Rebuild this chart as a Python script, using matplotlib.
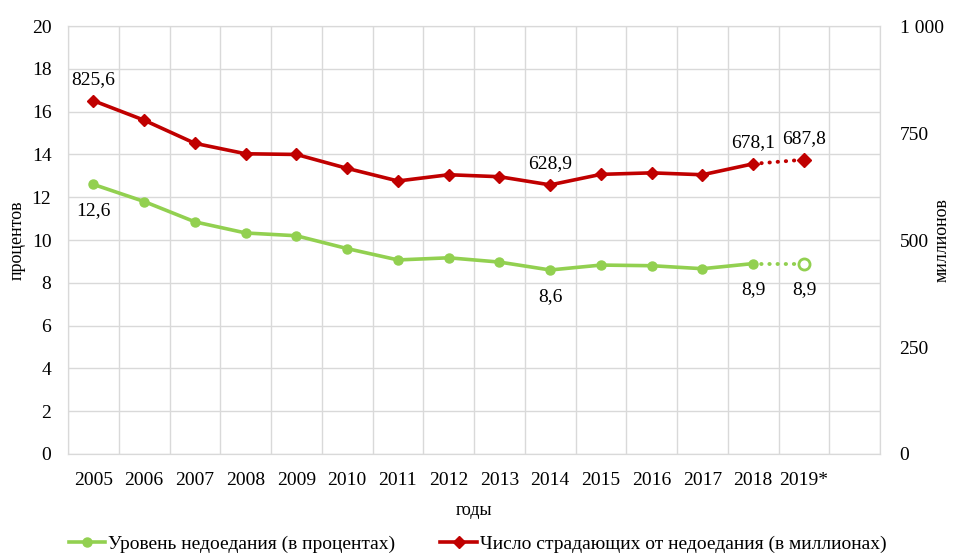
import matplotlib
matplotlib.use('Agg')
from matplotlib import pyplot as plt
from matplotlib.lines import Line2D

years = ['2005', '2006', '2007', '2008', '2009', '2010', '2011', '2012',
         '2013', '2014', '2015', '2016', '2017', '2018', '2019*']
percent = [12.6, 11.8, 10.85, 10.33, 10.2, 9.6, 9.07, 9.17, 8.97, 8.6, 8.83, 8.8, 8.66, 8.9, 8.9]
millions = [825.6, 780, 726, 701.6, 700, 667.5, 638, 652.6, 648, 628.9, 653.5, 657, 652.6, 678.1, 687.8]

green = '#92D050'
red = '#C00000'

plt.rcParams['font.family'] = ['Liberation Serif', 'DejaVu Serif']
plt.rcParams['font.size'] = 14

fig = plt.figure(figsize=(9.61, 5.55), dpi=100)
ax = fig.add_axes([0.0708, 0.182, 0.845, 0.771])
ax2 = ax.twinx()

x = list(range(len(years)))

# solid part up to 2018, dotted forecast 2018 -> 2019*
ax.plot(x[:-1], percent[:-1], color=green, lw=2.6, marker='o', ms=6.5, zorder=3)
ax.plot(x[-2:], percent[-2:], color=green, lw=2.8, ls=(0, (0.1, 2.0)),
        dash_capstyle='round', zorder=3)
ax.plot(x[-1], percent[-1], marker='o', ms=8, mfc='white', mec=green, mew=2, zorder=4)

ax2.plot(x[:-1], millions[:-1], color=red, lw=2.6, marker='D', ms=6, zorder=3)
ax2.plot(x[-2:], millions[-2:], color=red, lw=2.8, ls=(0, (0.1, 2.0)),
         dash_capstyle='round', zorder=3)
ax2.plot(x[-1], millions[-1], marker='D', ms=7, color=red, zorder=4)

ax.set_xlim(-0.5, 15.5)
ax.set_ylim(0, 20)
ax2.set_ylim(0, 1000)
ax.set_yticks(range(0, 21, 2))
ax2.set_yticks([0, 250, 500, 750, 1000])
ax2.set_yticklabels(['0', '250', '500', '750', '1 000'])
ax.set_xticks(x)
ax.set_xticklabels(years)
ax.set_xticks([i - 0.5 for i in range(17)], minor=True)

ax.grid(True, which='minor', axis='x', color='#D9D9D9', lw=1)
ax.grid(True, which='major', axis='y', color='#D9D9D9', lw=1)
ax.set_axisbelow(True)
ax.tick_params(which='both', length=0)
ax.tick_params(axis='x', pad=13)
ax.tick_params(axis='y', pad=12)
ax2.tick_params(length=0, pad=14)
for a in (ax, ax2):
    for s in a.spines.values():
        s.set_color('#D9D9D9')

ax.set_xlabel('годы', fontsize=13, labelpad=9)
ax.set_ylabel('процентов', fontsize=13)
ax2.set_ylabel('миллионов', fontsize=13)
ax.yaxis.set_label_coords(-0.052, 0.5)
ax2.yaxis.set_label_coords(1.066, 0.5)

# value labels
for i in [0, 9, 13, 14]:
    ax2.annotate(f'{millions[i]:.1f}'.replace('.', ','), (x[i], millions[i]),
                 xytext=(0, 15), textcoords='offset points', ha='center', va='center')
for i in [0, 9, 13, 14]:
    ax.annotate(f'{percent[i]:.1f}'.replace('.', ','), (x[i], percent[i]),
                xytext=(0, -19), textcoords='offset points', ha='center', va='center')

handles = [Line2D([], [], color=green, lw=2.6, marker='o', ms=6.5),
           Line2D([], [], color=red, lw=2.6, marker='D', ms=6)]
fig.legend(handles, ['Уровень недоедания (в процентах)',
                     'Число страдающих от недоедания (в миллионах)'],
           loc='lower center', bbox_to_anchor=(0.497, -0.028), ncol=2, frameon=False,
           handlelength=1.9, handletextpad=0.15, columnspacing=2.3, fontsize=14)

fig.savefig('out.png', dpi=100)
